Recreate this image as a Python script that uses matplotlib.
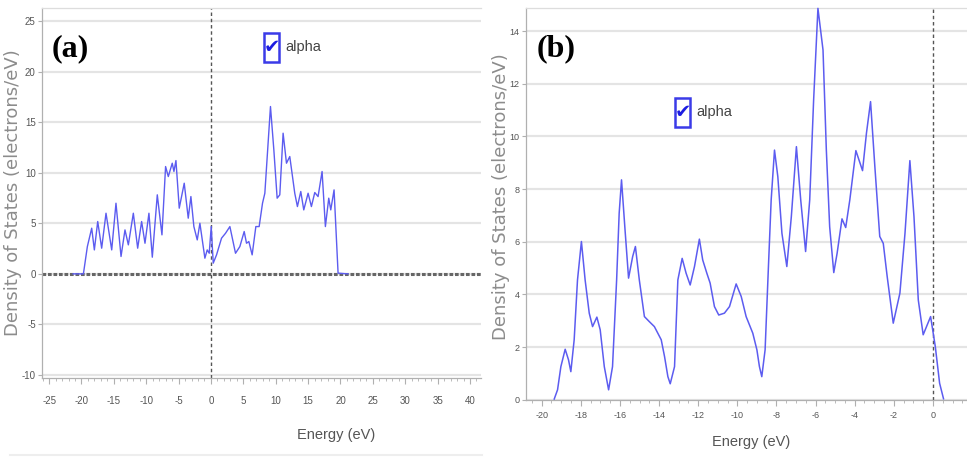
import numpy as np
import matplotlib
matplotlib.use("Agg")
import matplotlib.pyplot as plt
from matplotlib.patches import Rectangle
from matplotlib.ticker import MultipleLocator

plt.rcParams["axes.unicode_minus"] = False

# total DOS, panel (a): energy (eV) vs states (electrons/eV)
energy_a = [-21.3, -19.70, -19.09, -18.42, -18.01, -17.49, -16.88, -16.21, -15.33,
            -14.67, -13.89, -13.28, -12.76, -11.99, -11.32, -10.71, -10.19, -9.58,
            -9.06, -8.29, -7.57, -7.01, -6.59, -5.98, -5.72, -5.41, -4.90, -4.13,
            -3.51, -3.10, -2.64, -2.12, -1.71, -0.94, -0.58, -0.27, 0.04, 0.35,
            0.86, 1.63, 2.25, 2.92, 3.79, 4.46, 5.13, 5.49, 5.85, 6.36, 6.93, 7.44,
            7.96, 8.32, 9.19, 9.71, 10.22, 10.63, 11.14, 11.66, 12.17, 12.94, 13.35,
            13.87, 14.33, 15.00, 15.51, 16.03, 16.54, 17.16, 17.67, 18.19, 18.50,
            19.01, 19.63, 21.17]
dos_a = [0.0, 0.0, 2.70, 4.52, 2.37, 5.18, 2.54, 6.00, 2.37,
         6.99, 1.72, 4.35, 2.87, 6.00, 2.54, 5.18, 3.03, 6.00,
         1.65, 7.82, 3.86, 10.62, 9.63, 10.95, 10.13, 11.21, 6.50, 8.97,
         5.51, 7.65, 4.68, 3.36, 5.01, 1.55, 2.37, 2.04, 4.68, 1.06,
         1.88, 3.53, 4.02, 4.68, 2.04, 2.70, 4.19, 3.03, 3.20, 1.88, 4.68, 4.68,
         6.99, 7.98, 16.56, 12.27, 7.49, 7.82, 13.92, 10.95, 11.61, 7.98, 6.66,
         8.15, 6.33, 7.98, 6.66, 8.05, 7.65, 10.13, 4.68, 7.49, 6.33,
         8.31, 0.07, 0.0]

# total DOS, panel (b)
energy_b = [-19.36, -19.19, -19.02, -18.80, -18.63, -18.51, -18.34, -18.17, -17.97,
            -17.78, -17.57, -17.40, -17.18, -17.01, -16.80, -16.58, -16.38, -16.17,
            -16.04, -15.92, -15.74, -15.56, -15.35, -15.21, -15.01, -14.75, -14.50,
            -14.24, -13.89, -13.72, -13.55, -13.43, -13.21, -13.04, -12.82, -12.62,
            -12.41, -12.19, -11.94, -11.77, -11.56, -11.39, -11.17, -10.95, -10.66,
            -10.40, -10.06, -9.80, -9.55, -9.21, -9.00, -8.87, -8.75, -8.58, -8.41,
            -8.27, -8.10, -7.93, -7.72, -7.47, -7.24, -6.98, -6.76, -6.51, -6.30,
            -6.10, -5.88, -5.62, -5.45, -5.28, -5.07, -4.90, -4.65, -4.46, -4.25,
            -3.94, -3.60, -3.40, -3.19, -2.97, -2.72, -2.54, -2.34, -2.03, -1.69,
            -1.43, -1.18, -0.97, -0.75, -0.50, -0.12, 0.12, 0.34, 0.54]
dos_b = [0.03, 0.38, 1.26, 1.92, 1.52, 1.07, 2.28, 4.55, 6.01,
         4.55, 3.29, 2.78, 3.14, 2.66, 1.26, 0.38, 1.26, 4.55,
         7.08, 8.35, 6.45, 4.62, 5.44, 5.82, 4.55, 3.16, 2.97,
         2.78, 2.28, 1.64, 0.88, 0.61, 1.26, 4.55, 5.37, 4.81,
         4.36, 5.06, 6.10, 5.31, 4.81, 4.43, 3.54, 3.22, 3.29,
         3.54, 4.40, 3.92, 3.16, 2.53, 1.90, 1.26, 0.88, 1.90, 5.06,
         7.59, 9.48, 8.47, 6.32, 5.06, 6.95, 9.61, 7.59, 5.63, 7.59,
         11.38, 14.86, 13.28, 9.48, 6.57, 4.83, 5.56, 6.87, 6.54, 7.59,
         9.46, 8.70, 10.12, 11.32, 8.85, 6.20, 5.94, 4.68, 2.91, 4.05,
         6.32, 9.08, 6.95, 3.79, 2.47, 3.16, 2.02, 0.63, 0.04]

yticks_a = [-10, -5, 0, 5, 10, 15, 20, 25]
xticks_a = [-25, -20, -15, -10, -5, 0, 5, 10, 15, 20, 25, 30, 35, 40]
yticks_b = [0, 2, 4, 6, 8, 10, 12, 14]
xticks_b = [-20, -18, -16, -14, -12, -10, -8, -6, -4, -2, 0]

LINE = "#5c5cf0"
GRID = "#e4e4e4"
SPINE = "#b0b0b0"
TXT = "#555555"
NARROW = ["Liberation Sans", "DejaVu Sans"]

fig = plt.figure(figsize=(9.67, 4.76), dpi=100)
ax_a = fig.add_axes([0.0434, 0.206, 0.454, 0.777])
ax_b = fig.add_axes([0.544, 0.160, 0.456, 0.823])


def style_axes(ax, xticks, yticks, xminor, size, xpad):
    ax.set_xticks(xticks)
    ax.set_yticks(yticks)
    ax.xaxis.set_minor_locator(MultipleLocator(xminor))
    ax.yaxis.grid(True, color=GRID, lw=1.6)
    ax.set_axisbelow(True)
    for s in ax.spines.values():
        s.set_color(SPINE)
        s.set_linewidth(0.9)
    ax.spines["top"].set_color("#dddddd")
    ax.spines["right"].set_visible(False)
    ax.tick_params(which="both", direction="out", colors=SPINE, labelcolor=TXT,
                   labelsize=size)
    ax.tick_params(which="major", length=4)
    ax.tick_params(which="minor", length=2)
    ax.tick_params(axis="x", pad=xpad)
    ax.tick_params(axis="y", pad=1.5, length=3)
    for lab in ax.get_xticklabels() + ax.get_yticklabels():
        lab.set_family(NARROW)
    ax.set_xlabel("Energy (eV)", family=NARROW, fontsize=10.5, color=TXT)
    ax.set_ylabel("Density of States (electrons/eV)", fontsize=13,
                  color="#8c8c8c")


# panel (a)
style_axes(ax_a, xticks_a, yticks_a, 1, 7, 9)
ax_a.set_xlim(-26.1, 41.7)
ax_a.set_ylim(-10.3, 26.3)
ax_a.axhline(0, color="#666666", lw=2.2, ls=(0, (1.2, 0.6)), zorder=2)
ax_a.axvline(0, color="#555555", lw=1.0, ls=(0, (2.5, 2)), zorder=2)
ax_a.plot(energy_a, dos_a, color=LINE, lw=1.0, zorder=3)
ax_a.xaxis.set_label_coords(0.67, -0.135)
ax_a.yaxis.set_label_coords(-0.045, 0.5)

# panel (b)
style_axes(ax_b, xticks_b, yticks_b, 0.5, 6.5, 4)
ax_b.set_xlim(-20.8, 1.74)
ax_b.set_ylim(0, 14.87)
ax_b.axvline(0, color="#555555", lw=1.0, ls=(0, (2.5, 2)), zorder=2)
ax_b.plot(energy_b, dos_b, color=LINE, lw=1.1, zorder=3, clip_on=False)
ax_b.xaxis.set_label_coords(0.51, -0.09)
ax_b.yaxis.set_label_coords(-0.036, 0.52)

# panel tags
fig.text(0.053, 0.897, "(a)", family="Liberation Serif", fontweight="bold",
         fontsize=23, color="black", va="center")
fig.text(0.555, 0.897, "(b)", family="Liberation Serif", fontweight="bold",
         fontsize=23, color="black", va="center")


# checkbox legends
def checkbox(x0, y0, label):
    w, h = 15 / 967, 29 / 476
    fig.add_artist(Rectangle((x0, y0), w, h, transform=fig.transFigure,
                             fill=False, ec="#3b3be8", lw=1.8))
    fig.text(x0 + w / 2, y0 + h / 2, "\u2714", ha="center", va="center",
             fontsize=14, color="#1c1ce0")
    fig.text(x0 + w + 6 / 967, y0 + h / 2, label, ha="left", va="center",
             family=NARROW, fontsize=10.5, color="#444444")


checkbox(264 / 967, 1 - 62 / 476, "alpha")
checkbox(675 / 967, 1 - 127 / 476, "alpha")

# thin frame line under panel (a)
fig.add_artist(plt.Line2D([10 / 967, 482 / 967], [1 - 455 / 476] * 2,
                          transform=fig.transFigure, color="#eeeeee", lw=1.5))

fig.savefig("out.png", dpi=100)
